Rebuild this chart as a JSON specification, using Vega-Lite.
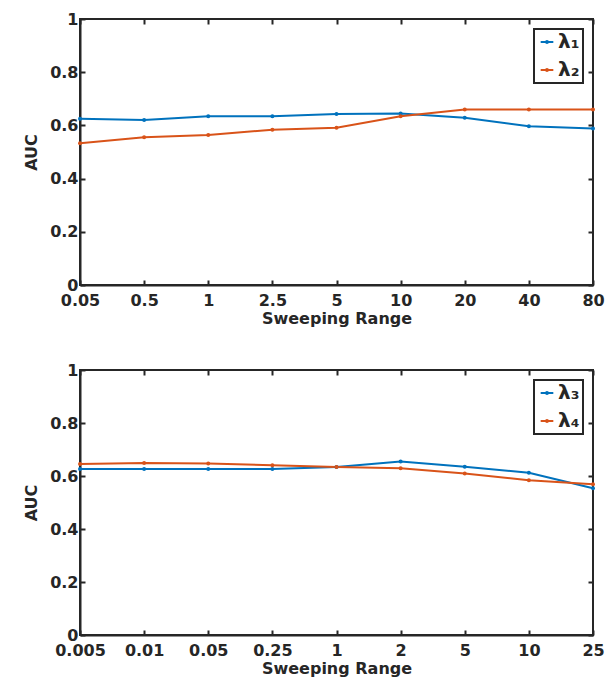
{
  "$schema": "https://vega.github.io/schema/vega-lite/v6.json",
  "padding": {"left": 22, "top": 10, "right": 5, "bottom": 5},
  "spacing": 34,
  "config": {
    "font": "DejaVu Sans",
    "view": {"stroke": "#262626", "strokeWidth": 2},
    "axis": {
      "labelFont": "DejaVu Sans", "labelFontWeight": "bold", "labelFontSize": 16, "labelColor": "#262626",
      "titleFont": "DejaVu Sans", "titleFontWeight": "bold", "titleFontSize": 16, "titleColor": "#262626",
      "domainColor": "#262626", "domainWidth": 2, "tickColor": "#262626", "tickWidth": 2, "tickSize": -5,
      "grid": false, "labelPadding": 7
    },
    "legend": {
      "labelFont": "DejaVu Sans", "labelFontWeight": "bold", "labelFontSize": 20, "labelColor": "#262626",
      "strokeColor": "#262626", "strokeWidth": 2, "fillColor": "white", "padding": 3,
      "orient": "top-right", "offset": 10, "title": null,
      "symbolType": "M-1,0H1M-0.15,0a0.15,0.15 0 1,0 0.3,0a0.15,0.15 0 1,0 -0.3,0",
      "symbolSize": 160, "symbolStrokeWidth": 2, "rowPadding": 8, "labelOffset": 1
    }
  },
  "datasets": {
    "top": [
      {"x": "0.05", "s": "λ₁", "auc": 0.625}, {"x": "0.5", "s": "λ₁", "auc": 0.620}, {"x": "1", "s": "λ₁", "auc": 0.634},
      {"x": "2.5", "s": "λ₁", "auc": 0.634}, {"x": "5", "s": "λ₁", "auc": 0.643}, {"x": "10", "s": "λ₁", "auc": 0.645},
      {"x": "20", "s": "λ₁", "auc": 0.629}, {"x": "40", "s": "λ₁", "auc": 0.597}, {"x": "80", "s": "λ₁", "auc": 0.588},
      {"x": "0.05", "s": "λ₂", "auc": 0.533}, {"x": "0.5", "s": "λ₂", "auc": 0.555}, {"x": "1", "s": "λ₂", "auc": 0.564},
      {"x": "2.5", "s": "λ₂", "auc": 0.584}, {"x": "5", "s": "λ₂", "auc": 0.591}, {"x": "10", "s": "λ₂", "auc": 0.634},
      {"x": "20", "s": "λ₂", "auc": 0.660}, {"x": "40", "s": "λ₂", "auc": 0.660}, {"x": "80", "s": "λ₂", "auc": 0.660}
    ],
    "bottom": [
      {"x": "0.005", "s": "λ₃", "auc": 0.626}, {"x": "0.01", "s": "λ₃", "auc": 0.626}, {"x": "0.05", "s": "λ₃", "auc": 0.626},
      {"x": "0.25", "s": "λ₃", "auc": 0.626}, {"x": "1", "s": "λ₃", "auc": 0.634}, {"x": "2", "s": "λ₃", "auc": 0.655},
      {"x": "5", "s": "λ₃", "auc": 0.635}, {"x": "10", "s": "λ₃", "auc": 0.612}, {"x": "25", "s": "λ₃", "auc": 0.554},
      {"x": "0.005", "s": "λ₄", "auc": 0.645}, {"x": "0.01", "s": "λ₄", "auc": 0.649}, {"x": "0.05", "s": "λ₄", "auc": 0.647},
      {"x": "0.25", "s": "λ₄", "auc": 0.641}, {"x": "1", "s": "λ₄", "auc": 0.634}, {"x": "2", "s": "λ₄", "auc": 0.629},
      {"x": "5", "s": "λ₄", "auc": 0.609}, {"x": "10", "s": "λ₄", "auc": 0.584}, {"x": "25", "s": "λ₄", "auc": 0.569}
    ]
  },
  "vconcat": [
    {
      "width": 513, "height": 266,
      "data": {"name": "top"},
      "resolve": {"axis": {"x": "independent", "y": "independent"}},
      "layer": [
        {
          "mark": {"type": "line", "strokeWidth": 2, "point": {"size": 16, "filled": true}},
          "encoding": {
            "x": {"field": "x", "type": "ordinal", "scale": {"domain": ["0.05","0.5","1","2.5","5","10","20","40","80"], "padding": 0},
                  "axis": {"title": "Sweeping Range", "labelAngle": 0, "titlePadding": 2, "labelPadding": 12}},
            "y": {"field": "auc", "type": "quantitative", "scale": {"domain": [0, 1], "nice": false},
                  "axis": {"title": "AUC", "values": [0, 0.2, 0.4, 0.6, 0.8, 1], "format": "~g", "titlePadding": 10}},
            "color": {"field": "s", "type": "nominal", "scale": {"domain": ["λ₁","λ₂"], "range": ["#0072BD", "#D95319"]}}
          }
        },
        {
          "mark": {"type": "line", "opacity": 0},
          "encoding": {
            "x": {"field": "x", "type": "ordinal", "axis": {"orient": "top", "labels": false, "title": null, "domain": false}},
            "y": {"field": "auc", "type": "quantitative", "axis": {"orient": "right", "labels": false, "title": null, "domain": false, "values": [0, 0.2, 0.4, 0.6, 0.8, 1]}},
            "detail": {"field": "s"}
          }
        }
      ]
    },
    {
      "width": 513, "height": 265,
      "data": {"name": "bottom"},
      "resolve": {"axis": {"x": "independent", "y": "independent"}},
      "layer": [
        {
          "mark": {"type": "line", "strokeWidth": 2, "point": {"size": 16, "filled": true}},
          "encoding": {
            "x": {"field": "x", "type": "ordinal", "scale": {"domain": ["0.005","0.01","0.05","0.25","1","2","5","10","25"], "padding": 0},
                  "axis": {"title": "Sweeping Range", "labelAngle": 0, "titlePadding": 2, "labelPadding": 12}},
            "y": {"field": "auc", "type": "quantitative", "scale": {"domain": [0, 1], "nice": false},
                  "axis": {"title": "AUC", "values": [0, 0.2, 0.4, 0.6, 0.8, 1], "format": "~g", "titlePadding": 10}},
            "color": {"field": "s", "type": "nominal", "scale": {"domain": ["λ₃","λ₄"], "range": ["#0072BD", "#D95319"]}}
          }
        },
        {
          "mark": {"type": "line", "opacity": 0},
          "encoding": {
            "x": {"field": "x", "type": "ordinal", "axis": {"orient": "top", "labels": false, "title": null, "domain": false}},
            "y": {"field": "auc", "type": "quantitative", "axis": {"orient": "right", "labels": false, "title": null, "domain": false, "values": [0, 0.2, 0.4, 0.6, 0.8, 1]}},
            "detail": {"field": "s"}
          }
        }
      ]
    }
  ],
  "resolve": {"scale": {"color": "independent"}}
}
